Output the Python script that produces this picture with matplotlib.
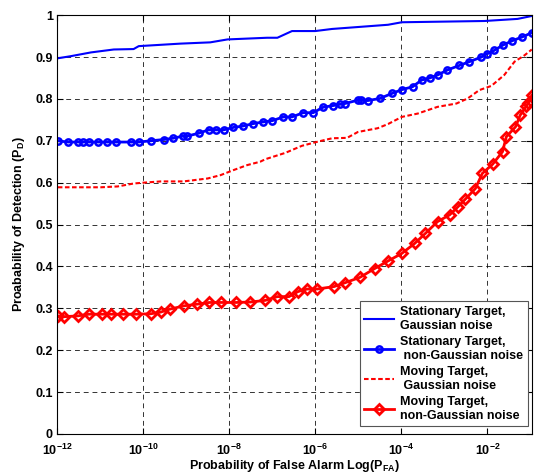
import matplotlib
matplotlib.use("Agg")
import matplotlib.pyplot as plt
import numpy as np

# log10(P_FA) positions and P_D values
st_gauss_logx = [-11.98, -11.68, -11.21, -10.68, -10.22, -10.10, -9.13, -8.44, -8.04, -7.12,
                 -6.88, -6.54, -6.00, -5.61, -4.31, -3.99, -2.07, -1.30, -0.97]
st_gauss_pd = [0.897, 0.902, 0.911, 0.918, 0.919, 0.926, 0.932, 0.935, 0.942, 0.946,
               0.946, 0.962, 0.962, 0.967, 0.977, 0.983, 0.986, 0.991, 0.998]

st_ngauss_logx = [-11.98, -11.75, -11.51, -11.40, -11.26, -11.05, -10.84, -10.63, -10.29, -10.10,
                  -9.82, -9.52, -9.31, -9.08, -8.98, -8.71, -8.48, -8.31, -8.13, -7.90,
                  -7.69, -7.44, -7.21, -7.00, -6.74, -6.54, -6.28, -6.05, -5.82, -5.59,
                  -5.43, -5.31, -5.01, -4.94, -4.78, -4.50, -4.22, -3.99, -3.74, -3.53,
                  -3.34, -3.16, -2.93, -2.65, -2.44, -2.14, -2.00, -1.84, -1.65, -1.42,
                  -1.19, -0.97]
st_ngauss_pd = [0.700, 0.697, 0.697, 0.697, 0.697, 0.697, 0.697, 0.697, 0.697, 0.697,
                0.700, 0.703, 0.706, 0.711, 0.711, 0.718, 0.726, 0.726, 0.726, 0.732,
                0.735, 0.741, 0.745, 0.748, 0.757, 0.757, 0.767, 0.767, 0.780, 0.784,
                0.787, 0.789, 0.797, 0.797, 0.796, 0.801, 0.813, 0.822, 0.829, 0.845,
                0.850, 0.857, 0.869, 0.880, 0.888, 0.900, 0.908, 0.916, 0.928, 0.939,
                0.948, 0.958]

mv_gauss_logx = [-11.98, -10.98, -10.59, -10.22, -9.99, -9.59, -9.06, -8.50, -8.20, -7.90,
                 -7.58, -7.28, -7.16, -6.70, -6.31, -5.94, -5.61, -5.26, -5.01, -4.55,
                 -4.31, -3.99, -3.62, -3.16, -2.72, -2.46, -2.19, -1.91, -1.61, -1.37,
                 -1.14, -0.97]
mv_gauss_pd = [0.589, 0.589, 0.591, 0.598, 0.600, 0.603, 0.603, 0.610, 0.618, 0.630,
               0.642, 0.650, 0.656, 0.671, 0.688, 0.698, 0.706, 0.707, 0.721, 0.730,
               0.740, 0.757, 0.765, 0.781, 0.789, 0.801, 0.821, 0.831, 0.857, 0.889,
               0.904, 0.918]

mv_ngauss_logx = [-11.98, -11.84, -11.51, -11.26, -10.96, -10.75, -10.47, -10.17, -9.82, -9.59,
                  -9.38, -9.04, -8.74, -8.46, -8.20, -7.83, -7.51, -7.16, -6.88, -6.61,
                  -6.40, -6.19, -5.96, -5.56, -5.31, -4.96, -4.62, -4.31, -3.99, -3.69,
                  -3.44, -3.16, -2.88, -2.69, -2.51, -2.28, -2.12, -1.88, -1.65, -1.56,
                  -1.35, -1.24, -1.10, -1.05, -0.97]
mv_ngauss_pd = [0.282, 0.280, 0.282, 0.286, 0.286, 0.286, 0.286, 0.286, 0.287, 0.291,
                0.298, 0.306, 0.310, 0.314, 0.314, 0.314, 0.315, 0.319, 0.328, 0.328,
                0.340, 0.346, 0.346, 0.352, 0.361, 0.374, 0.395, 0.413, 0.431, 0.455,
                0.479, 0.507, 0.523, 0.542, 0.561, 0.586, 0.622, 0.644, 0.674, 0.710,
                0.733, 0.761, 0.783, 0.790, 0.809]

labels = ["Stationary Target,\nGaussian noise",
          "Stationary Target,\n non-Gaussian noise",
          "Moving Target,\n Gaussian noise",
          "Moving Target,\nnon-Gaussian noise"]

xtick_exp = [-12, -10, -8, -6, -4, -2]
ytick_vals = [0, 0.1, 0.2, 0.3, 0.4, 0.5, 0.6, 0.7, 0.8, 0.9, 1]

plt.rcParams["font.family"] = ["Liberation Sans", "DejaVu Sans"]
plt.rcParams["font.weight"] = "bold"
plt.rcParams["mathtext.fontset"] = "custom"
plt.rcParams["mathtext.rm"] = "Liberation Sans:bold"
plt.rcParams["mathtext.bf"] = "Liberation Sans:bold"
plt.rcParams["mathtext.it"] = "Liberation Sans:bold"

fig = plt.figure(figsize=(5.35, 4.73), dpi=100)
ax = fig.add_axes([0.1065, 0.0825, 0.8875, 0.8855])

ax.plot(10 ** np.array(st_gauss_logx), st_gauss_pd, "-", color="#0000ff", lw=1.5, label=labels[0])
ax.plot(10 ** np.array(st_ngauss_logx), st_ngauss_pd, "-o", color="#0000ff", lw=2.0,
        ms=4.5, mfc="none", mew=1.8, label=labels[1])
ax.plot(10 ** np.array(mv_gauss_logx), mv_gauss_pd, "--", color="#ff0000", lw=1.5,
        dashes=(2.2, 1.2), label=labels[2])
ax.plot(10 ** np.array(mv_ngauss_logx), mv_ngauss_pd, "-D", color="#ff0000", lw=2.0,
        ms=4.8, mfc="none", mew=2.0, label=labels[3])

ax.set_xscale("log")
ax.set_xlim(1e-12, 10 ** -0.97)
ax.set_ylim(0, 1)
ax.set_xticks([10.0 ** e for e in xtick_exp])
ax.set_xticklabels([r"$\mathbf{10^{%d}}$" % e for e in xtick_exp])
ax.xaxis.set_minor_locator(matplotlib.ticker.NullLocator())
ax.set_yticks(ytick_vals)
ax.set_yticklabels(["%g" % v for v in ytick_vals])
ax.tick_params(direction="in", top=True, right=True, labelsize=9, length=4, width=0.8, pad=3)
ax.tick_params(axis="x", pad=6)
for lab in ax.get_xticklabels() + ax.get_yticklabels():
    lab.set_fontweight("bold")

ax.grid(True, color="black", ls=(0, (5, 4)), lw=0.7, alpha=0.8)
for s in ax.spines.values():
    s.set_linewidth(0.8)

ax.set_xlabel(r"Probability of False Alarm Log(P$_{FA}$)", fontsize=9, fontweight="bold", labelpad=0)
ax.set_ylabel(r"Proabability of Detection (P$_D$)", fontsize=9, fontweight="bold", labelpad=6)

leg = ax.legend(loc="lower right", bbox_to_anchor=(0.997, 0.012), fontsize=9, handlelength=2.4,
                fancybox=False, framealpha=1, edgecolor="#555555", borderpad=0.35,
                labelspacing=0.35, handletextpad=0.5, borderaxespad=0.2)
leg.get_frame().set_linewidth(0.8)

fig.savefig("out.png", dpi=100)
